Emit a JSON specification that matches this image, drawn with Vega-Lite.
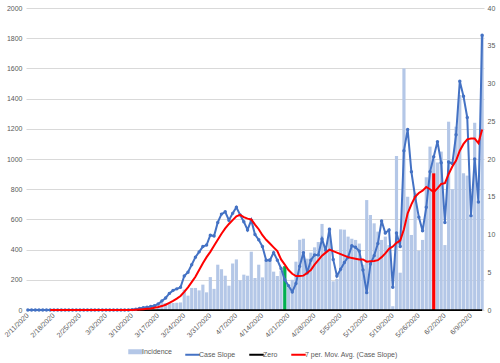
{
"$schema": "https://vega.github.io/schema/vega-lite/v6.json",
"width": 458, "height": 302,
"autosize": "none",
"padding": {"left": 26, "top": 8, "right": 16, "bottom": 53},
"background": "white",
"config": {"view": {"stroke": null}, "font": "Liberation Sans",
  "legend": {"title": null, "orient": "none", "legendX": 106, "legendY": 340, "direction": "horizontal",
    "symbolType": "stroke", "symbolSize": 210, "symbolStrokeWidth": 2, "labelFontSize": 7, "labelColor": "#595959",
    "labelOffset": 3, "columnPadding": 9}},
"data": {"values": [
{"date":"2/11/2020","inc":0,"s":0,"ma":null},
{"date":"2/12/2020","inc":0,"s":0,"ma":null},
{"date":"2/13/2020","inc":0,"s":0,"ma":null},
{"date":"2/14/2020","inc":0,"s":0,"ma":null},
{"date":"2/15/2020","inc":0,"s":0,"ma":null},
{"date":"2/16/2020","inc":0,"s":0,"ma":null},
{"date":"2/17/2020","inc":0,"s":0,"ma":0},
{"date":"2/18/2020","inc":0,"s":0,"ma":0},
{"date":"2/19/2020","inc":0,"s":0,"ma":0},
{"date":"2/20/2020","inc":0,"s":0,"ma":0},
{"date":"2/21/2020","inc":0,"s":0,"ma":0},
{"date":"2/22/2020","inc":0,"s":0,"ma":0},
{"date":"2/23/2020","inc":0,"s":0,"ma":0},
{"date":"2/24/2020","inc":0,"s":0,"ma":0},
{"date":"2/25/2020","inc":0,"s":0,"ma":0},
{"date":"2/26/2020","inc":0,"s":0,"ma":0},
{"date":"2/27/2020","inc":0,"s":0,"ma":0},
{"date":"2/28/2020","inc":0,"s":0,"ma":0},
{"date":"2/29/2020","inc":0,"s":0,"ma":0},
{"date":"3/1/2020","inc":0,"s":0,"ma":0},
{"date":"3/2/2020","inc":0,"s":0,"ma":0},
{"date":"3/3/2020","inc":0,"s":0,"ma":0},
{"date":"3/4/2020","inc":0,"s":0,"ma":0},
{"date":"3/5/2020","inc":0,"s":0,"ma":0},
{"date":"3/6/2020","inc":0,"s":0,"ma":0},
{"date":"3/7/2020","inc":0,"s":0,"ma":0},
{"date":"3/8/2020","inc":0,"s":0,"ma":0},
{"date":"3/9/2020","inc":0,"s":0,"ma":0},
{"date":"3/10/2020","inc":0,"s":0.05,"ma":0.01},
{"date":"3/11/2020","inc":0,"s":0.1,"ma":0.03},
{"date":"3/12/2020","inc":0,"s":0.2,"ma":0.06},
{"date":"3/13/2020","inc":0,"s":0.3,"ma":0.1},
{"date":"3/14/2020","inc":0,"s":0.35,"ma":0.15},
{"date":"3/15/2020","inc":0,"s":0.45,"ma":0.21},
{"date":"3/16/2020","inc":0,"s":0.55,"ma":0.29},
{"date":"3/17/2020","inc":20,"s":0.8,"ma":0.39},
{"date":"3/18/2020","inc":46,"s":1.2,"ma":0.52},
{"date":"3/19/2020","inc":46,"s":1.6,"ma":0.7},
{"date":"3/20/2020","inc":46,"s":2.2,"ma":0.95},
{"date":"3/21/2020","inc":46,"s":2.6,"ma":1.2},
{"date":"3/22/2020","inc":48,"s":2.8,"ma":1.5},
{"date":"3/23/2020","inc":50,"s":3.0,"ma":1.85},
{"date":"3/24/2020","inc":135,"s":4.5,"ma":2.4},
{"date":"3/25/2020","inc":95,"s":5.0,"ma":3.0},
{"date":"3/26/2020","inc":146,"s":6.0,"ma":3.7},
{"date":"3/27/2020","inc":146,"s":7.0,"ma":4.4},
{"date":"3/28/2020","inc":130,"s":7.7,"ma":5.3},
{"date":"3/29/2020","inc":168,"s":8.4,"ma":6.2},
{"date":"3/30/2020","inc":117,"s":8.6,"ma":7.0},
{"date":"3/31/2020","inc":218,"s":9.9,"ma":7.7},
{"date":"4/1/2020","inc":140,"s":9.8,"ma":8.5},
{"date":"4/2/2020","inc":300,"s":11.6,"ma":9.3},
{"date":"4/3/2020","inc":270,"s":12.7,"ma":10.1},
{"date":"4/4/2020","inc":227,"s":13.0,"ma":10.8},
{"date":"4/5/2020","inc":161,"s":11.9,"ma":11.4},
{"date":"4/6/2020","inc":308,"s":12.8,"ma":11.9},
{"date":"4/7/2020","inc":335,"s":13.6,"ma":12.4},
{"date":"4/8/2020","inc":197,"s":12.6,"ma":12.6},
{"date":"4/9/2020","inc":234,"s":11.7,"ma":12.3},
{"date":"4/10/2020","inc":227,"s":10.6,"ma":12.1},
{"date":"4/11/2020","inc":386,"s":11.9,"ma":12.0},
{"date":"4/12/2020","inc":212,"s":10.0,"ma":11.3},
{"date":"4/13/2020","inc":300,"s":9.3,"ma":10.7},
{"date":"4/14/2020","inc":216,"s":8.4,"ma":9.9},
{"date":"4/15/2020","inc":330,"s":6.6,"ma":9.3},
{"date":"4/16/2020","inc":344,"s":6.6,"ma":8.8},
{"date":"4/17/2020","inc":254,"s":7.6,"ma":8.3},
{"date":"4/18/2020","inc":225,"s":6.6,"ma":7.8},
{"date":"4/19/2020","inc":260,"s":5.5,"ma":6.7},
{"date":"4/20/2020","inc":290,"s":4.0,"ma":6.0,"ev":290},
{"date":"4/21/2020","inc":150,"s":3.2,"ma":5.3},
{"date":"4/22/2020","inc":200,"s":2.4,"ma":4.8},
{"date":"4/23/2020","inc":320,"s":3.5,"ma":4.5},
{"date":"4/24/2020","inc":465,"s":5.8,"ma":4.5},
{"date":"4/25/2020","inc":472,"s":7.6,"ma":4.55},
{"date":"4/26/2020","inc":340,"s":4.9,"ma":4.9},
{"date":"4/27/2020","inc":380,"s":6.6,"ma":5.3},
{"date":"4/28/2020","inc":415,"s":7.3,"ma":6.0},
{"date":"4/29/2020","inc":450,"s":7.3,"ma":6.6},
{"date":"4/30/2020","inc":570,"s":9.4,"ma":7.2},
{"date":"5/1/2020","inc":400,"s":7.9,"ma":7.6},
{"date":"5/2/2020","inc":545,"s":10.7,"ma":8.0},
{"date":"5/3/2020","inc":190,"s":6.7,"ma":7.8},
{"date":"5/4/2020","inc":205,"s":4.5,"ma":7.6},
{"date":"5/5/2020","inc":534,"s":5.4,"ma":7.4},
{"date":"5/6/2020","inc":532,"s":6.3,"ma":7.2},
{"date":"5/7/2020","inc":486,"s":7.0,"ma":7.0},
{"date":"5/8/2020","inc":472,"s":8.5,"ma":6.9},
{"date":"5/9/2020","inc":464,"s":8.3,"ma":6.8},
{"date":"5/10/2020","inc":440,"s":7.8,"ma":6.7},
{"date":"5/11/2020","inc":300,"s":5.3,"ma":6.7},
{"date":"5/12/2020","inc":728,"s":2.3,"ma":6.4},
{"date":"5/13/2020","inc":629,"s":6.1,"ma":6.45},
{"date":"5/14/2020","inc":574,"s":7.2,"ma":6.5},
{"date":"5/15/2020","inc":519,"s":8.8,"ma":6.6},
{"date":"5/16/2020","inc":464,"s":11.8,"ma":7.0},
{"date":"5/17/2020","inc":486,"s":10.2,"ma":7.5},
{"date":"5/18/2020","inc":430,"s":10.6,"ma":8.1},
{"date":"5/19/2020","inc":25,"s":3.0,"ma":8.4},
{"date":"5/20/2020","inc":1020,"s":10.2,"ma":8.9},
{"date":"5/21/2020","inc":247,"s":8.4,"ma":9.2},
{"date":"5/22/2020","inc":1600,"s":21.1,"ma":10.7},
{"date":"5/23/2020","inc":750,"s":23.9,"ma":12.8},
{"date":"5/24/2020","inc":497,"s":18.3,"ma":14.0},
{"date":"5/25/2020","inc":777,"s":15.0,"ma":15.0},
{"date":"5/26/2020","inc":393,"s":12.3,"ma":15.5},
{"date":"5/27/2020","inc":464,"s":10.5,"ma":15.8},
{"date":"5/28/2020","inc":879,"s":13.6,"ma":16.3},
{"date":"5/29/2020","inc":1082,"s":18.3,"ma":16.0},
{"date":"5/30/2020","inc":1000,"s":20.3,"ma":15.6,"ev":905},
{"date":"5/31/2020","inc":976,"s":22.3,"ma":16.1},
{"date":"6/1/2020","inc":1049,"s":19.5,"ma":16.7},
{"date":"6/2/2020","inc":430,"s":11.6,"ma":16.8},
{"date":"6/3/2020","inc":1247,"s":19.6,"ma":18.0},
{"date":"6/4/2020","inc":800,"s":19.4,"ma":19.0},
{"date":"6/5/2020","inc":1214,"s":23.2,"ma":19.8},
{"date":"6/6/2020","inc":1424,"s":30.3,"ma":21.1},
{"date":"6/7/2020","inc":905,"s":28.3,"ma":22.0},
{"date":"6/8/2020","inc":890,"s":25.5,"ma":22.6},
{"date":"6/9/2020","inc":630,"s":12.5,"ma":22.7},
{"date":"6/10/2020","inc":1240,"s":20.0,"ma":22.7},
{"date":"6/11/2020","inc":720,"s":14.3,"ma":22.1},
{"date":"6/12/2020","inc":1820,"s":36.4,"ma":23.9}
]},
"encoding": {
  "x": {"field": "date", "type": "ordinal", "sort": null,
    "scale": {"paddingInner": 0.15, "paddingOuter": 0.075},
    "axis": {"title": null, "values": ["2/11/2020","2/18/2020","2/25/2020","3/3/2020","3/10/2020","3/17/2020","3/24/2020","3/31/2020","4/7/2020","4/14/2020","4/21/2020","4/28/2020","5/5/2020","5/12/2020","5/19/2020","5/26/2020","6/2/2020","6/9/2020"],
      "labelAngle": -45, "labelAlign": "right", "labelBaseline": "middle", "labelPadding": 4,
      "labelFontSize": 7, "labelColor": "#595959", "ticks": false, "domain": false, "grid": false,
      "labelOverlap": false, "labelBound": false}}
},
"layer": [
  {"layer": [
    {"mark": {"type": "bar"},
     "encoding": {
       "y": {"field": "inc", "type": "quantitative",
         "scale": {"domain": [0, 2000], "nice": false},
         "axis": {"title": null, "format": "d", "values": [0,200,400,600,800,1000,1200,1400,1600,1800,2000], "grid": true, "gridColor": "#D9D9D9", "gridWidth": 1, "domain": false, "ticks": false, "labelPadding": 4, "labelFontSize": 7, "labelColor": "#595959"}},
       "color": {"datum": "Incidence", "type": "nominal",
         "scale": {"domain": ["Incidence", "Case Slope", "Zero", "7 per. Mov. Avg. (Case Slope)"], "range": ["#B4C7E7", "#4472C4", "#000000", "#FF0000"]},
         "legend": {"encode": {"symbols": {"update": {
             "stroke": {"scale": "color", "field": "value"},
             "fill": {"value": "transparent"},
             "strokeWidth": {"signal": "datum.value === 'Incidence' ? 5 : 2"}}}}}}
     }},
    {"transform": [{"filter": "datum.date === '4/20/2020'"}],
     "mark": {"type": "bar", "color": "#00B050"},
     "encoding": {"y": {"field": "ev", "type": "quantitative",
         "scale": {"domain": [0, 2000], "nice": false},
         "axis": {"title": null, "format": "d", "values": [0,200,400,600,800,1000,1200,1400,1600,1800,2000], "grid": true, "gridColor": "#D9D9D9", "gridWidth": 1, "domain": false, "ticks": false, "labelPadding": 4, "labelFontSize": 7, "labelColor": "#595959"}}}},
    {"transform": [{"filter": "datum.date === '5/30/2020'"}],
     "mark": {"type": "bar", "color": "#FF0000"},
     "encoding": {"y": {"field": "ev", "type": "quantitative",
         "scale": {"domain": [0, 2000], "nice": false},
         "axis": {"title": null, "format": "d", "values": [0,200,400,600,800,1000,1200,1400,1600,1800,2000], "grid": true, "gridColor": "#D9D9D9", "gridWidth": 1, "domain": false, "ticks": false, "labelPadding": 4, "labelFontSize": 7, "labelColor": "#595959"}}}}
  ]},
  {"layer": [
    {"mark": {"type": "line", "strokeWidth": 1.75},
     "encoding": {
       "y": {"datum": 0, "type": "quantitative", "scale": {"domain": [0, 40], "nice": false},
         "axis": {"title": null, "orient": "right", "values": [0,5,10,15,20,25,30,35,40], "grid": false, "domain": false, "ticks": false, "labelPadding": 3, "labelFontSize": 7, "labelColor": "#595959"}},
       "color": {"datum": "Zero", "type": "nominal",
         "legend": {"encode": {"symbols": {"update": {
             "stroke": {"scale": "color", "field": "value"},
             "fill": {"value": "transparent"},
             "strokeWidth": {"signal": "datum.value === 'Incidence' ? 5 : 2"}}}}}}
     }},
    {"mark": {"type": "line", "strokeWidth": 2, "point": {"filled": true, "size": 12}},
     "encoding": {
       "y": {"field": "s", "type": "quantitative", "scale": {"domain": [0, 40], "nice": false},
         "axis": {"title": null, "orient": "right", "values": [0,5,10,15,20,25,30,35,40], "grid": false, "domain": false, "ticks": false, "labelPadding": 3, "labelFontSize": 7, "labelColor": "#595959"}},
       "color": {"datum": "Case Slope", "type": "nominal",
         "legend": {"encode": {"symbols": {"update": {
             "stroke": {"scale": "color", "field": "value"},
             "fill": {"value": "transparent"},
             "strokeWidth": {"signal": "datum.value === 'Incidence' ? 5 : 2"}}}}}}
     }},
    {"mark": {"type": "line", "strokeWidth": 2},
     "encoding": {
       "y": {"field": "ma", "type": "quantitative", "scale": {"domain": [0, 40], "nice": false},
         "axis": {"title": null, "orient": "right", "values": [0,5,10,15,20,25,30,35,40], "grid": false, "domain": false, "ticks": false, "labelPadding": 3, "labelFontSize": 7, "labelColor": "#595959"}},
       "color": {"datum": "7 per. Mov. Avg. (Case Slope)", "type": "nominal",
         "legend": {"encode": {"symbols": {"update": {
             "stroke": {"scale": "color", "field": "value"},
             "fill": {"value": "transparent"},
             "strokeWidth": {"signal": "datum.value === 'Incidence' ? 5 : 2"}}}}}}
     }}
  ]}
],
"resolve": {"scale": {"y": "independent"}}
}
